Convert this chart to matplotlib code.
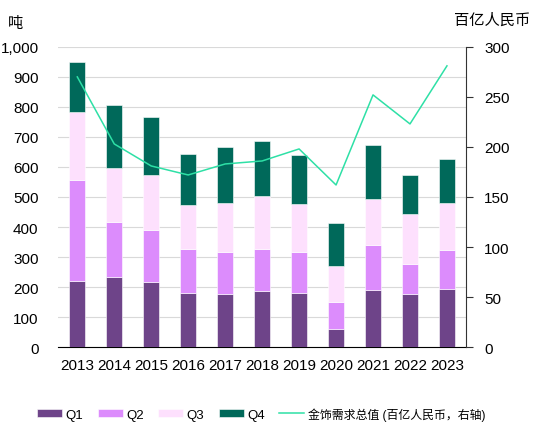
import matplotlib.pyplot as plt
import numpy as np

plt.rcParams['font.family'] = ['Liberation Sans', 'Noto Sans CJK SC', 'DejaVu Sans']

years = ['2013', '2014', '2015', '2016', '2017', '2018', '2019', '2020', '2021', '2022', '2023']
q1 = [221, 234, 218, 179, 176, 187, 179, 59, 191, 177, 194]
q2 = [336, 184, 172, 149, 142, 141, 139, 90, 148, 100, 130]
q3 = [226, 179, 183, 144, 162, 176, 158, 120, 154, 165, 157]
q4 = [167, 210, 193, 172, 186, 183, 163, 144, 180, 131, 147]
value = [270, 203, 181, 172, 183, 186, 198, 162, 252, 223, 281]  # 百亿人民币

colors = ['#6e4489', '#dc8cfc', '#fde0fd', '#00695a']
labels = ['Q1', 'Q2', 'Q3', 'Q4']

fig = plt.figure(figsize=(5.53, 4.39), dpi=100)
ax = fig.add_axes([0.105, 0.207, 0.738, 0.684])
x = np.arange(len(years))

bottom = np.zeros(len(years))
for vals, c, lab in zip([q1, q2, q3, q4], colors, labels):
    ax.bar(x, vals, width=0.43, bottom=bottom, color=c, label=lab,
           edgecolor='#ffffff', linewidth=0.4, zorder=3)
    bottom += np.array(vals)

ax.set_xlim(-0.52, 10.52)
ax.set_ylim(0, 1000)
ax.set_yticks(range(0, 1001, 100))
ax.set_yticklabels(['0', '100', '200', '300', '400', '500', '600', '700', '800', '900', '1,000'])
ax.set_xticks(x)
ax.set_xticklabels(years)
ax.grid(axis='y', color='#d9d9d9', linewidth=0.8, zorder=0)
for s in ['left', 'top', 'right']:
    ax.spines[s].set_visible(False)
ax.spines['bottom'].set_color('black')
ax.tick_params(axis='y', length=0, labelsize=11, pad=14)
ax.tick_params(axis='x', length=0, labelsize=11, pad=8)

ax2 = ax.twinx()
ax2.plot(x, value, color='#2ee0a6', linewidth=1.1, label='金饰需求总值 (百亿人民币，右轴)', zorder=4)
ax2.set_ylim(0, 300)
ax2.set_yticks(range(0, 301, 50))
for s in ['left', 'top', 'bottom']:
    ax2.spines[s].set_visible(False)
ax2.spines['right'].set_color('#333333')
ax2.tick_params(axis='y', length=5, color='#333333', labelsize=11, pad=8)

fig.text(0.015, 0.945, '吨', fontsize=11, ha='left', va='center')
fig.text(0.958, 0.953, '百亿人民币', fontsize=11, ha='right', va='center')

h1, l1 = ax.get_legend_handles_labels()
h2, l2 = ax2.get_legend_handles_labels()
leg = fig.legend(h1 + h2, l1 + l2, loc='center', bbox_to_anchor=(0.472, 0.055), ncol=5,
                 frameon=False, fontsize=9.5, handlelength=1.9, handleheight=0.65,
                 handletextpad=0.25, columnspacing=1.1)
leg.get_texts()[-1].set_fontsize(8.6)

fig.savefig('out.png', dpi=100)
